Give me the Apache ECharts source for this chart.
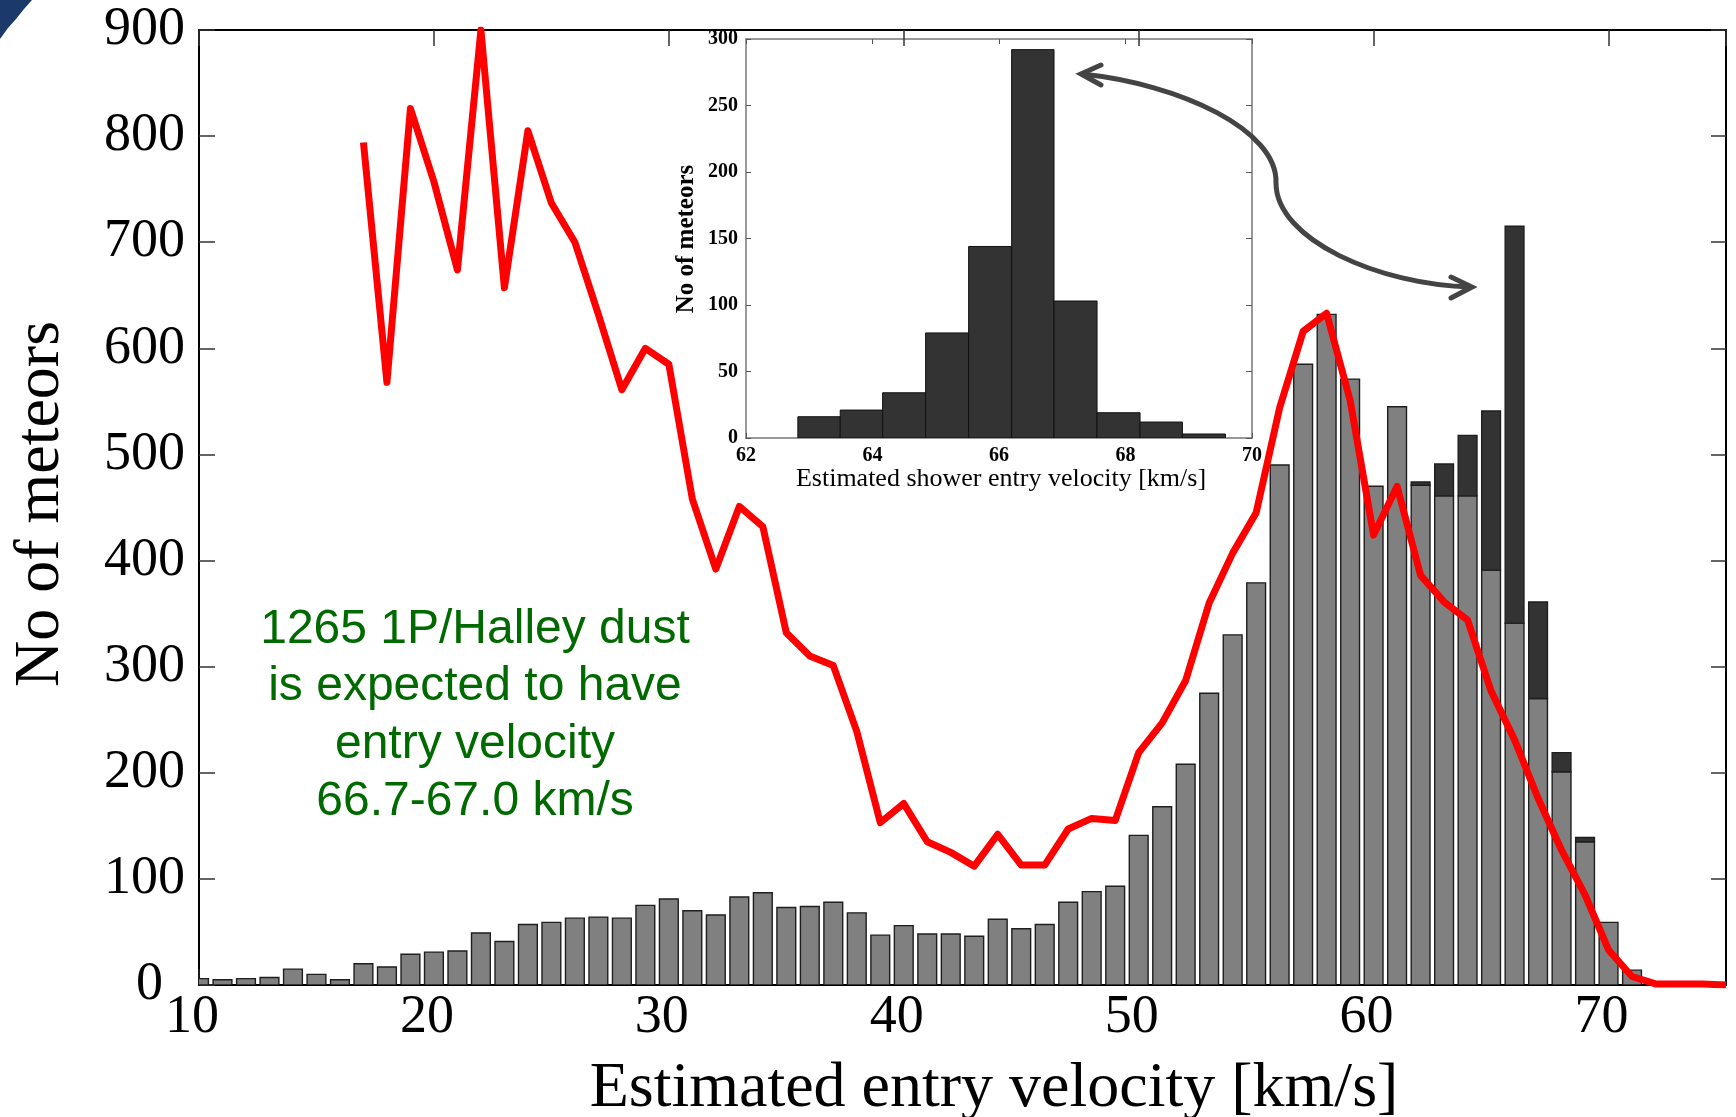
<!DOCTYPE html>
<html>
<head>
<meta charset="utf-8">
<script src="https://cdn.jsdelivr.net/npm/echarts@6/dist/echarts.min.js"></script>
<style>
html,body{margin:0;padding:0;background:#ffffff;}
#c{width:1736px;height:1117px;}
</style>
</head>
<body>
<div id="c"></div>
<script>
// ---- Main histogram: bars centred on integer entry velocities (km/s) ----
const velocities = [10,11,12,13,14,15,16,17,18,19,20,21,22,23,24,25,26,27,28,29,30,31,32,33,34,35,36,37,38,39,40,41,42,43,44,45,46,47,48,49,50,51,52,53,54,55,56,57,58,59,60,61,62,63,64,65,66,67,68,69,70,71];
// light grey part of each bar
const sporadicCounts = [6,5,6,7,15,10,5,20,17,29,31,32,49,41,57,59,63,64,63,75,81,70,66,83,87,73,74,78,68,47,56,48,48,46,62,53,57,78,88,93,141,168,208,275,330,379,490,585,632,571,470,545,471,461,461,391,341,270,201,135,59,14];
// dark grey (shower) part stacked on top
const showerCounts = [0,0,0,0,0,0,0,0,0,0,0,0,0,0,0,0,0,0,0,0,0,0,0,0,0,0,0,0,0,0,0,0,0,0,0,0,0,0,0,0,0,0,0,0,0,0,0,0,0,0,0,0,3,30,57,150,374,91,18,4,0,0];

// ---- Red curve ----
const curveVelocities = [17,18,19,20,21,22,23,24,25,26,27,28,29,30,31,32,33,34,35,36,37,38,39,40,41,42,43,44,45,46,47,48,49,50,51,52,53,54,55,56,57,58,59,60,61,62,63,64,65,66,67,68,69,70,71,72,73,74,75];
const curveCounts = [794,568,826,757,674,900,657,805,737,700,632,561,600,585,458,392,451,432,332,310,301,239,153,171,135,125,112,142,113,113,147,157,155,219,247,287,360,407,445,544,616,633,551,424,470,386,361,344,277,231,176,127,85,33,8,1,1,1,0];

// ---- Inset histogram ----
const insetBinEdges = [62.82,63.49,64.16,64.84,65.52,66.20,66.87,67.55,68.23,68.90,69.58];
const insetCounts = [16,21,34,79,144,292,103,19,12,3];

// ---- Axis ticks ----
const mainXTicks = {min:10, max:75, interval:10};
const mainYTicks = {min:0, max:900, interval:100};
const insetXTicks = {min:62, max:70, interval:2};
const insetYTicks = {min:0, max:300, interval:50};

const SERIF = '"Liberation Serif","Times New Roman",serif';
const SANS = '"Liberation Sans",Arial,sans-serif';

const chart = echarts.init(document.getElementById('c'), null, {renderer:'canvas'});

const BAR_HALF = 0.4;
function mainBarRender(params, api) {
  const x = api.value(0), g = api.value(1), d = api.value(2);
  const a = api.coord([x - BAR_HALF, g]);
  const b = api.coord([x + BAR_HALF, 0]);
  const children = [{
    type:'rect',
    shape:{x:a[0], y:a[1], width:b[0]-a[0], height:b[1]-a[1]},
    style:{fill:'#808080', stroke:'#1e1e1e', lineWidth:1.4}
  }];
  if (d > 0) {
    const t = api.coord([x - BAR_HALF, g + d]);
    children.push({
      type:'rect',
      shape:{x:t[0], y:t[1], width:b[0]-t[0], height:a[1]-t[1]},
      style:{fill:'#333333', stroke:'#1e1e1e', lineWidth:1.4}
    });
  }
  return {type:'group', children};
}
function insetBarRender(params, api) {
  const x0 = api.value(0), x1 = api.value(1), c = api.value(2);
  const a = api.coord([x0, c]);
  const b = api.coord([x1, 0]);
  return {
    type:'rect',
    shape:{x:a[0], y:a[1], width:b[0]-a[0], height:b[1]-a[1]},
    style:{fill:'#333333', stroke:'#111111', lineWidth:1}
  };
}

const mainLabel = {fontFamily:SERIF, fontSize:54, color:'#000'};
const insetLabel = {fontFamily:SERIF, fontSize:20, fontWeight:'bold', color:'#000'};

function txt(x, y, text, font, fill, rotation) {
  return {
    type:'text', x:x, y:y, rotation:rotation || 0, z:100,
    style:{text:text, font:font, fill:fill,
      textAlign:'center', textVerticalAlign:'middle', align:'center', verticalAlign:'middle'}
  };
}

const option = {
  backgroundColor:'#ffffff',
  animation:false,
  grid:[
    {left:199, top:30, width:1527, height:955, containLabel:false},
    {left:746, top:39, width:506, height:399, containLabel:false}
  ],
  xAxis:[
    {gridIndex:0, type:'value', position:'bottom', min:mainXTicks.min, max:mainXTicks.max, interval:mainXTicks.interval,
      axisLine:{show:true, onZero:false, lineStyle:{color:'#000', width:2}},
      axisTick:{show:true, inside:true, length:16, lineStyle:{color:'#222', width:1.5}},
      axisLabel:Object.assign({margin:6, padding:[0,14,0,0], showMaxLabel:false,
        formatter:function(v){ return v > 70 ? '' : String(v); }}, mainLabel),
      splitLine:{show:false}},
    {gridIndex:0, type:'value', position:'top', min:mainXTicks.min, max:mainXTicks.max, interval:mainXTicks.interval,
      axisLine:{show:true, onZero:false, lineStyle:{color:'#000', width:2}},
      axisTick:{show:true, inside:true, length:16, lineStyle:{color:'#333', width:1.5}},
      axisLabel:{show:false}, splitLine:{show:false}},
    {gridIndex:1, type:'value', position:'bottom', min:insetXTicks.min, max:insetXTicks.max, interval:insetXTicks.interval,
      axisLine:{show:true, onZero:false, lineStyle:{color:'#777', width:1.5}},
      axisTick:{show:true, inside:true, length:5, lineStyle:{color:'#555', width:1}},
      axisLabel:Object.assign({margin:8, showMaxLabel:true, showMinLabel:true, hideOverlap:false}, insetLabel),
      splitLine:{show:false}},
    {gridIndex:1, type:'value', position:'top', min:insetXTicks.min, max:insetXTicks.max, interval:insetXTicks.interval,
      axisLine:{show:true, onZero:false, lineStyle:{color:'#777', width:1.5}},
      axisTick:{show:true, inside:true, length:5, lineStyle:{color:'#555', width:1}},
      axisLabel:{show:false}, splitLine:{show:false}}
  ],
  yAxis:[
    {gridIndex:0, type:'value', position:'left', min:mainYTicks.min, max:mainYTicks.max, interval:mainYTicks.interval,
      axisLine:{show:true, onZero:false, lineStyle:{color:'#000', width:2}},
      axisTick:{show:true, inside:true, length:16, lineStyle:{color:'#333', width:1.5}},
      axisLabel:Object.assign({margin:14,
        formatter:function(v){ return v === 0 ? '{z|0}' : String(v); },
        rich:{z:{fontFamily:SERIF, fontSize:54, color:'#000', padding:[0,22,0,0]}}
      }, mainLabel),
      splitLine:{show:false}},
    {gridIndex:0, type:'value', position:'right', min:mainYTicks.min, max:mainYTicks.max, interval:mainYTicks.interval,
      axisLine:{show:true, onZero:false, lineStyle:{color:'#000', width:2}},
      axisTick:{show:true, inside:true, length:15, lineStyle:{color:'#333', width:1.5}},
      axisLabel:{show:false}, splitLine:{show:false}},
    {gridIndex:1, type:'value', position:'left', min:insetYTicks.min, max:insetYTicks.max, interval:insetYTicks.interval,
      axisLine:{show:true, onZero:false, lineStyle:{color:'#777', width:1.5}},
      axisTick:{show:true, inside:true, length:5, lineStyle:{color:'#555', width:1}},
      axisLabel:Object.assign({margin:8}, insetLabel),
      splitLine:{show:false}},
    {gridIndex:1, type:'value', position:'right', min:insetYTicks.min, max:insetYTicks.max, interval:insetYTicks.interval,
      axisLine:{show:true, onZero:false, lineStyle:{color:'#777', width:1.5}},
      axisTick:{show:true, inside:true, length:6, lineStyle:{color:'#555', width:1}},
      axisLabel:{show:false}, splitLine:{show:false}}
  ],
  series:[
    {type:'custom', name:'All meteors', xAxisIndex:0, yAxisIndex:0, clip:true, z:2,
      renderItem:mainBarRender,
      encode:{x:0, y:[1,2]},
      data:velocities.map(function(v,i){ return [v, sporadicCounts[i], showerCounts[i]]; })},
    {type:'line', name:'Model', xAxisIndex:0, yAxisIndex:0, z:5,
      showSymbol:false, symbol:'none', smooth:false,
      lineStyle:{color:'#ff0000', width:7, join:'round', cap:'butt'},
      data:curveVelocities.map(function(v,i){ return [v, curveCounts[i]]; })},
    {type:'custom', name:'Shower', xAxisIndex:2, yAxisIndex:2, clip:true, z:3,
      renderItem:insetBarRender,
      encode:{x:[0,1], y:2},
      data:insetCounts.map(function(c,i){ return [insetBinEdges[i], insetBinEdges[i+1], c]; })}
  ],
  graphic:{elements:[
    // dark corner decoration
    {type:'polygon', z:100, shape:{points:[[0,0],[32,0],[24,9],[16,19],[8,28],[0,39]]}, style:{fill:'#1b3a6b'}},
    // axis titles
    txt(41, 504, 'No of meteors', '64px ' + SERIF, '#000', Math.PI/2),
    txt(994, 1089, 'Estimated entry velocity [km/s]', '64px ' + SERIF, '#000', 0),
    // inset titles
    txt(687, 239, 'No of meteors', 'bold 25px ' + SERIF, '#000', Math.PI/2),
    txt(1001, 479, 'Estimated shower entry velocity [km/s]', '26px ' + SERIF, '#000', 0),
    // annotation
    {type:'text', x:475, y:716, z:100,
      style:{text:'1265 1P/Halley dust\nis expected to have\nentry velocity\n66.7-67.0 km/s',
        font:'48px ' + SANS, fill:'#006a00', lineHeight:57.5,
        textAlign:'center', textVerticalAlign:'middle', align:'center', verticalAlign:'middle'}},
    // curved double arrow
    {type:'bezierCurve', z:100,
      shape:{x1:1082, y1:74, cpx1:1180, cpy1:84, cpx2:1278, cpy2:130, x2:1276, y2:183},
      style:{stroke:'#444444', lineWidth:5, fill:null}},
    {type:'bezierCurve', z:100,
      shape:{x1:1276, y1:183, cpx1:1276, cpy1:240, cpx2:1380, cpy2:285, x2:1471, y2:287},
      style:{stroke:'#444444', lineWidth:5, fill:null}},
    {type:'polyline', z:100, shape:{points:[[1101,65],[1081,74],[1101,85]]},
      style:{stroke:'#444444', lineWidth:5, fill:null, lineCap:'round', lineJoin:'miter'}},
    {type:'polyline', z:100, shape:{points:[[1451,277],[1472,287],[1451,298]]},
      style:{stroke:'#444444', lineWidth:5, fill:null, lineCap:'round', lineJoin:'miter'}}
  ]}
};
chart.setOption(option);
</script>
</body>
</html>
